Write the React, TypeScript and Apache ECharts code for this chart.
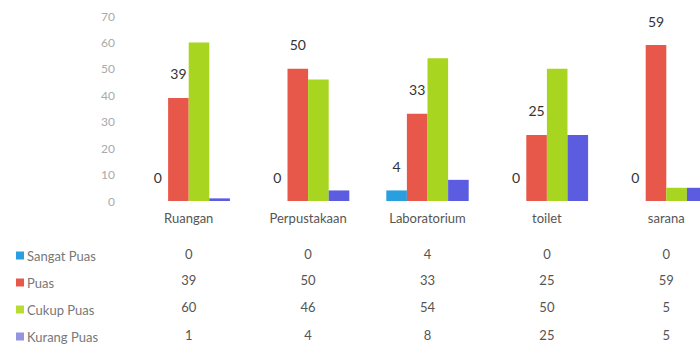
import React, { useEffect, useRef } from "react";
import * as echarts from "echarts";

const categories = ["Ruangan", "Perpustakaan", "Laboratorium", "toilet", "sarana"];
const seriesNames = ["Sangat Puas", "Puas", "Cukup Puas", "Kurang Puas"];
const sangatPuas = [0, 0, 4, 0, 0];
const puas = [39, 50, 33, 25, 59];
const cukupPuas = [60, 46, 54, 50, 5];
const kurangPuas = [1, 4, 8, 25, 5];
const yTicks = [0, 10, 20, 30, 40, 50, 60, 70];

const seriesValues = [sangatPuas, puas, cukupPuas, kurangPuas];
const colors = ["#2a9fe0", "#e8584a", "#a8d620", "#5c5ce0"];
const legendColors = ["#2a9fe0", "#e8584a", "#b8dc30", "#9494e0"];
const labelled = [true, true, false, false];

const FONT = "Lato, 'Open Sans', sans-serif";
// label margins below the plot for the data-table rows
const rowMargins = [46, 72, 99, 127];

export default function App() {
  const ref = useRef<HTMLDivElement>(null);

  useEffect(() => {
    if (!ref.current) return;
    const chart = echarts.init(ref.current, undefined, { renderer: "svg" });

    const tableAxes = seriesValues.map((vals, i) => ({
      type: "category" as const,
      gridIndex: 0,
      position: "bottom" as const,
      data: categories,
      axisLine: { show: false },
      axisTick: { show: false },
      splitLine: { show: false },
      axisLabel: {
        margin: rowMargins[i],
        interval: 0,
        fontSize: 13,
        fontFamily: FONT,
        color: "#555",
        formatter: (_v: string, idx: number) => String(vals[idx]),
      },
    }));

    chart.setOption({
      animation: false,
      backgroundColor: "#ffffff",
      textStyle: { fontFamily: FONT },
      grid: { left: 129, right: 0, top: 16, bottom: 161, containLabel: false },
      legend: {
        orient: "vertical",
        left: 11,
        top: 244,
        itemWidth: 8,
        itemHeight: 8,
        itemGap: 14,
        icon: "rect",
        data: seriesNames.map((n, i) => ({ name: n, itemStyle: { color: legendColors[i] } })),
        textStyle: { fontSize: 13, color: "#777", fontFamily: FONT, padding: [0, 0, 0, -2] },
        selectedMode: false,
      },
      xAxis: [
        {
          type: "category",
          data: categories,
          axisLine: { show: false },
          axisTick: { show: false },
          axisLabel: { margin: 10, interval: 0, fontSize: 13, color: "#555", fontFamily: FONT },
        },
        ...tableAxes,
      ],
      yAxis: {
        type: "value",
        min: yTicks[0],
        max: yTicks[yTicks.length - 1],
        interval: 10,
        axisLine: { show: false },
        axisTick: { show: false },
        splitLine: { show: false },
        axisLabel: { margin: 14, fontSize: 12, color: "#aaa", fontFamily: FONT },
      },
      series: seriesNames.map((name, i) => ({
        name,
        type: "bar",
        xAxisIndex: 0,
        data: seriesValues[i],
        barGap: "0%",
        barCategoryGap: "31%",
        itemStyle: { color: colors[i] },
        label: {
          show: labelled[i],
          position: "top",
          distance: 17,
          fontSize: 14,
          color: "#333",
          fontFamily: FONT,
        },
      })),
    });

    return () => chart.dispose();
  }, []);

  // The plot runs past the right edge of the frame, so the last group is cut off.
  return (
    <div style={{ position: "absolute", left: 0, top: 0, width: 700, height: 362, overflow: "hidden" }}>
      <div ref={ref} style={{ width: 726, height: 362 }} />
    </div>
  );
}
